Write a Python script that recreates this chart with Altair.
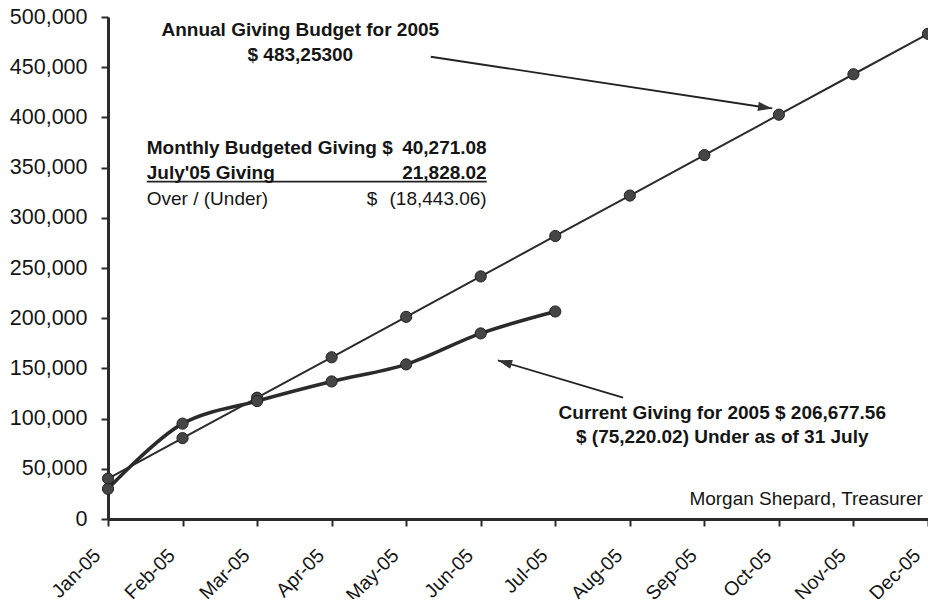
import altair as alt
import pandas as pd

# ---------------- data ----------------
months = ["Jan-05", "Feb-05", "Mar-05", "Apr-05", "May-05", "Jun-05",
          "Jul-05", "Aug-05", "Sep-05", "Oct-05", "Nov-05", "Dec-05"]
budget = [40271, 80542, 120813, 161084, 201354, 241625,
          281896, 322167, 362438, 402709, 442980, 483253]
current = [30000, 95000, 117500, 137000, 154000, 184850, 206678]
y_ticks = [0, 50000, 100000, 150000, 200000, 250000,
           300000, 350000, 400000, 450000, 500000]

# annotation texts (position in month-index / value units)
center_texts = ["Annual Giving Budget for 2005", "$ 483,25300",
                "Current Giving  for 2005 $ 206,677.56",
                "$ (75,220.02) Under as of 31 July"]
center_x = [2.58, 2.58, 8.24, 8.24]
center_y = [487500, 462500, 106000, 82000]

left_bold_texts = ["Monthly Budgeted Giving $", "July'05 Giving"]
left_bold_x = [0.52, 0.52]
left_bold_y = [369300, 344500]

left_norm_texts = ["Over / (Under)", "$"]
left_norm_x = [0.52, 3.47]
left_norm_y = [319000, 319000]

right_bold_texts = ["40,271.08", "21,828.02"]
right_bold_x = [5.08, 5.08]
right_bold_y = [369300, 344500]

right_norm_texts = ["(18,443.06)", "Morgan Shepard, Treasurer"]
right_norm_x = [5.08, 10.93]
right_norm_y = [319000, 20000]

underline_x = [0.52]
underline_x2 = [5.08]
underline_y = [336000]

arrow_x = [4.33, 6.91]
arrow_y = [460400, 121000]
arrow_x2 = [8.91, 5.23]
arrow_y2 = [408900, 158000]
arrow_angle = [98.6, 286.5]

# ---------------- frames ----------------
budget_df = pd.DataFrame({"i": list(range(len(budget))), "v": budget})
current_df = pd.DataFrame({"i": list(range(len(current))), "v": current})
center_df = pd.DataFrame({"t": center_texts, "x": center_x, "y": center_y})
lb_df = pd.DataFrame({"t": left_bold_texts, "x": left_bold_x, "y": left_bold_y})
ln_df = pd.DataFrame({"t": left_norm_texts, "x": left_norm_x, "y": left_norm_y})
rb_df = pd.DataFrame({"t": right_bold_texts, "x": right_bold_x, "y": right_bold_y})
rn_df = pd.DataFrame({"t": right_norm_texts, "x": right_norm_x, "y": right_norm_y})
ul_df = pd.DataFrame({"x": underline_x, "x2": underline_x2, "y": underline_y})
arrow_df = pd.DataFrame({"x": arrow_x, "y": arrow_y, "x2": arrow_x2, "y2": arrow_y2,
                         "a": arrow_angle})

FONT = "Liberation Sans"
INK = "#2b2b2b"
TXT = "#151515"

label_expr = "[" + ",".join("'" + m + "'" for m in months) + "][datum.value]"

xscale = alt.Scale(domain=[0, len(months) - 1], nice=False, zero=False)
yscale = alt.Scale(domain=[0, 500000], nice=False)

x_axis = alt.Axis(values=list(range(len(months))), labelExpr=label_expr,
                  labelAngle=-45, labelAlign="right", labelBaseline="middle",
                  labelFont=FONT, labelFontSize=19.5, labelColor=TXT,
                  labelPadding=26, labelOffset=-11, tickSize=7, tickWidth=2,
                  tickColor=INK, domainColor=INK, domainWidth=3, grid=False,
                  title=None, labelOverlap=False, labelFlush=False)
y_axis = alt.Axis(values=y_ticks, format=",d", labelFont=FONT, labelFontSize=21.5,
                  labelColor=TXT, labelPadding=14, tickSize=7, tickWidth=2,
                  tickColor=INK, domainColor=INK, domainWidth=3, grid=False,
                  title=None)

X = alt.X("i:Q", scale=xscale, axis=x_axis)
Y = alt.Y("v:Q", scale=yscale, axis=y_axis)

budget_line = alt.Chart(budget_df).mark_line(color=INK, strokeWidth=2).encode(x=X, y=Y)
budget_pts = alt.Chart(budget_df).mark_circle(size=125, color="#454545", opacity=1,
                                              stroke="#222", strokeWidth=1).encode(x="i:Q", y="v:Q")
current_line = alt.Chart(current_df).mark_line(color=INK, strokeWidth=3.6,
                                               interpolate="catmull-rom").encode(x="i:Q", y="v:Q")
current_pts = alt.Chart(current_df).mark_circle(size=125, color="#454545", opacity=1,
                                                stroke="#222", strokeWidth=1).encode(x="i:Q", y="v:Q")


def text_layer(df, align, weight):
    return alt.Chart(df).mark_text(font=FONT, fontSize=19, fontWeight=weight,
                                   color=TXT, align=align,
                                   baseline="middle").encode(x="x:Q", y="y:Q", text="t:N")


center_layer = text_layer(center_df, "center", "bold")
lb_layer = text_layer(lb_df, "left", "bold")
ln_layer = text_layer(ln_df, "left", "normal")
rb_layer = text_layer(rb_df, "right", "bold")
rn_layer = text_layer(rn_df, "right", "normal")

underline = alt.Chart(ul_df).mark_rule(color="#222", strokeWidth=1.6).encode(
    x="x:Q", x2="x2:Q", y="y:Q")

arrow_shaft = alt.Chart(arrow_df).mark_rule(color="#222", strokeWidth=1.8).encode(
    x="x:Q", y="y:Q", x2="x2:Q", y2="y2:Q")
arrow_head = alt.Chart(arrow_df).mark_point(
    shape="M0,0L0.42,1.3L-0.42,1.3Z", size=480, filled=True, color="#333",
    opacity=1).encode(x="x2:Q", y="y2:Q",
                      angle=alt.Angle("a:Q", scale=None))

chart = alt.layer(
    budget_line, budget_pts, current_line, current_pts,
    arrow_shaft, arrow_head, underline,
    center_layer, lb_layer, ln_layer, rb_layer, rn_layer
).properties(
    width=820, height=502,
    padding={"left": 100, "top": 9, "right": 0, "bottom": 80},
    autosize=alt.AutoSizeParams(type="none"),
    background="white"
).configure_view(stroke=None)

chart.save("out.html", embed_options={"renderer": "svg", "actions": False})
